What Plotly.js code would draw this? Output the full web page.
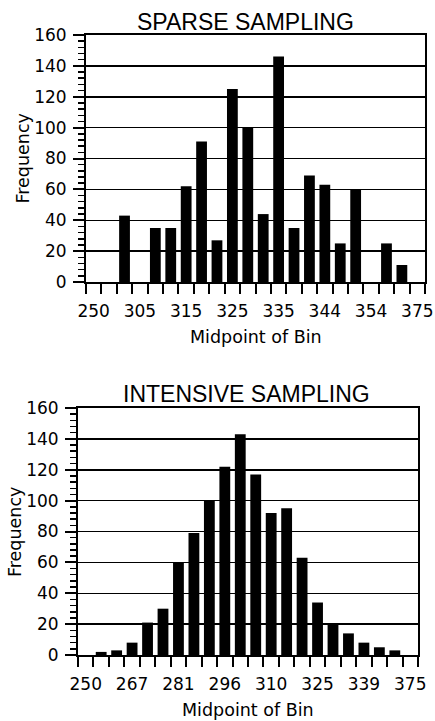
<!DOCTYPE html>
<html>
<head>
<meta charset="utf-8">
<script src="https://cdn.plot.ly/plotly-3.0.1.min.js"></script>
<style>
  html, body { margin: 0; padding: 0; background: #ffffff; }
  #chart { width: 435px; height: 721px; }
</style>
</head>
<body>
<div id="chart"></div>
<script>
// ---- data ----
const bins = [0, 1, 2, 3, 4, 5, 6, 7, 8, 9, 10, 11, 12, 13, 14, 15, 16, 17, 18, 19, 20, 21];
const sparseFreq = [0, 0, 43, 0, 35, 35, 62, 91, 27, 125, 100, 44, 146, 35, 69, 63, 25, 60, 0, 25, 11, 0];
const intensiveFreq = [0, 2, 3, 8, 21, 30, 60, 79, 100, 122, 143, 117, 92, 95, 63, 34, 20, 14, 8, 5, 3, 0];
const tickBins = [0, 3, 6, 9, 12, 15, 18, 21];
const sparseTickLabels = ['250', '305', '315', '325', '335', '344', '354', '375'];
const intensiveTickLabels = ['250', '267', '281', '296', '310', '325', '339', '375'];
const titleSparse = 'SPARSE SAMPLING';
const titleIntensive = 'INTENSIVE SAMPLING';
const xTitle = 'Midpoint of Bin';
const yTitle = 'Frequency';

// ---- styling ----
const W = 435, H = 721;
const tickFont = { family: 'DejaVu Sans', size: 17, color: '#000' };
const axTitleFont = { family: 'DejaVu Sans', size: 17.5, color: '#000' };
const titleFont = { family: 'Liberation Sans, Arial, sans-serif', size: 23, color: '#000' };

function px(x) { return x / W; }
function py(y) { return 1 - y / H; }

// labels centred under their bins; tick marks (minor ticks) on the bin boundaries
function xAxis(domain, anchor, labels) {
  return {
    domain: domain,
    anchor: anchor,
    range: [-0.5, bins.length - 0.5],
    tickmode: 'array',
    tickvals: tickBins,
    ticktext: labels,
    ticks: 'outside',
    ticklen: 10,
    tickwidth: 2,
    tickcolor: 'rgba(0,0,0,0)',
    tickfont: tickFont,
    ticklabelstandoff: 3,
    showgrid: false,
    zeroline: false,
    showline: true,
    linecolor: '#000',
    linewidth: 2,
    mirror: true,
    fixedrange: true,
    minor: {
      tickmode: 'linear',
      tick0: -0.5,
      dtick: 1,
      ticks: 'outside',
      ticklen: 10,
      tickwidth: 2,
      tickcolor: '#000',
      showgrid: false
    }
  };
}

function yAxis(domain, anchor) {
  return {
    domain: domain,
    anchor: anchor,
    range: [0, 160],
    tickmode: 'linear',
    tick0: 0,
    dtick: 20,
    ticks: 'outside',
    ticklen: 11,
    tickwidth: 2,
    tickcolor: '#000',
    showgrid: true,
    gridcolor: '#000',
    gridwidth: 1.5,
    zeroline: false,
    showline: true,
    linecolor: '#000',
    linewidth: 2,
    mirror: true,
    tickfont: tickFont,
    ticklabelstandoff: 3,
    fixedrange: true,
    minor: {
      tickmode: 'linear',
      tick0: 0,
      dtick: 4,
      ticks: 'outside',
      ticklen: 6,
      tickwidth: 1.5,
      tickcolor: '#000',
      showgrid: false
    }
  };
}

const barStyle = { color: '#000', line: { width: 0 } };

const traces = [
  { type: 'bar', x: bins, y: sparseFreq, xaxis: 'x', yaxis: 'y', marker: barStyle, hoverinfo: 'skip' },
  { type: 'bar', x: bins, y: intensiveFreq, xaxis: 'x2', yaxis: 'y2', marker: barStyle, hoverinfo: 'skip' }
];

const topX = [px(86), px(425)], topY = [py(282), py(35)];
const botX = [px(78), px(418)], botY = [py(655), py(408)];

const layout = {
  width: W,
  height: H,
  margin: { l: 0, r: 0, t: 0, b: 0, pad: 0 },
  paper_bgcolor: '#fff',
  plot_bgcolor: '#fff',
  showlegend: false,
  bargap: 0.3,
  xaxis: xAxis(topX, 'y', sparseTickLabels),
  yaxis: yAxis(topY, 'x'),
  xaxis2: xAxis(botX, 'y2', intensiveTickLabels),
  yaxis2: yAxis(botY, 'x2'),
  annotations: [
    { text: titleSparse, xref: 'paper', yref: 'paper', x: px(245), y: py(22), xanchor: 'center', yanchor: 'middle', showarrow: false, font: titleFont },
    { text: titleIntensive, xref: 'paper', yref: 'paper', x: px(246), y: py(394), xanchor: 'center', yanchor: 'middle', showarrow: false, font: titleFont },
    { text: yTitle, xref: 'paper', yref: 'paper', x: px(22), y: py(158.5), textangle: -90, xanchor: 'center', yanchor: 'middle', showarrow: false, font: axTitleFont },
    { text: yTitle, xref: 'paper', yref: 'paper', x: px(15), y: py(532), textangle: -90, xanchor: 'center', yanchor: 'middle', showarrow: false, font: axTitleFont },
    { text: xTitle, xref: 'paper', yref: 'paper', x: px(256), y: py(337), xanchor: 'center', yanchor: 'middle', showarrow: false, font: axTitleFont },
    { text: xTitle, xref: 'paper', yref: 'paper', x: px(248.5), y: py(710), xanchor: 'center', yanchor: 'middle', showarrow: false, font: axTitleFont }
  ]
};

Plotly.newPlot('chart', traces, layout, { staticPlot: true, displayModeBar: false });
</script>
</body>
</html>
